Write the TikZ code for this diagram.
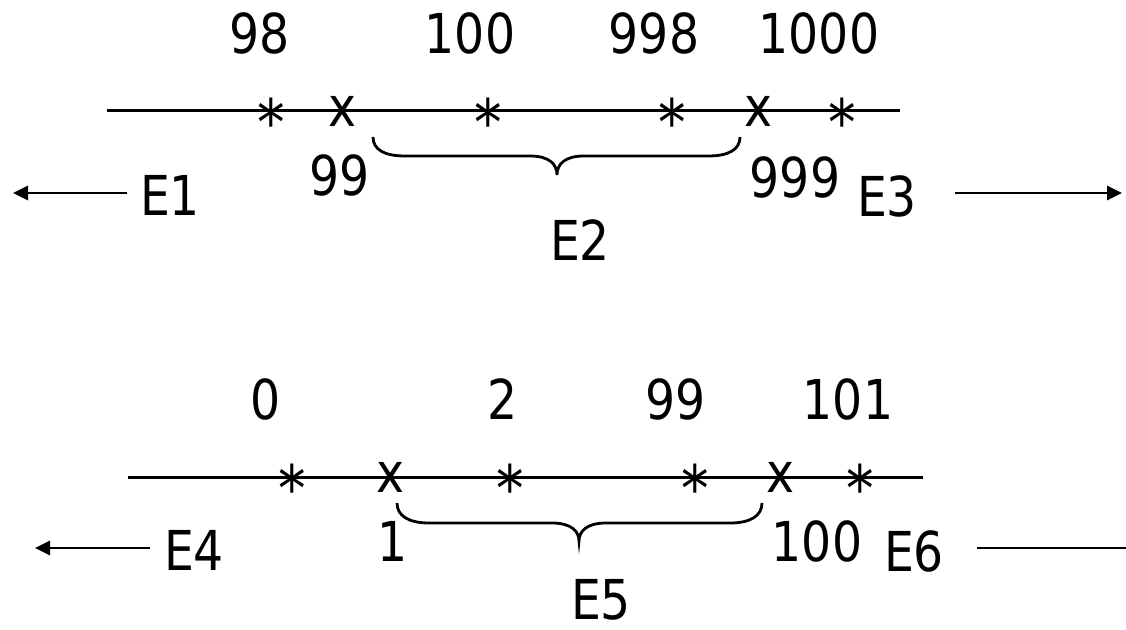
\documentclass[tikz,border=0pt]{standalone}
\usepackage{fontspec}
\setmainfont[FakeStretch=0.86]{DejaVu Sans}
\usetikzlibrary{arrows.meta}
\begin{document}
\begin{tikzpicture}[x=1pt,y=-1pt,
  lbl/.style={inner sep=0pt, font=\fontsize{55}{66}\selectfont},
  star/.style={inner sep=0pt, anchor=north, font=\fontsize{64}{70}\selectfont},
  cross/.style={lbl},
  axis/.style={line width=3pt},
  bracepath/.style={line width=2.8pt},
  pointer/.style={line width=2.8pt, -{Triangle[length=15pt,width=14pt]}},
  plainline/.style={line width=2.8pt}]
\useasboundingbox (0,0) rectangle (1126,629);

% ---------- upper number line ----------
\coordinate (ua) at (107,110);
\coordinate (ub) at (900,110);
\draw[axis] (ua) -- (ub);

\node[star] (us1) at (271,98) {*};
\node[star] (us2) at (488,98) {*};
\node[star] (us3) at (672,98) {*};
\node[star] (us4) at (842,98) {*};
\node[cross] (ux1) at (342,111) {x};
\node[cross] (ux2) at (758,111) {x};

\node[lbl] (u98)   at (260,33) {98};
\node[lbl] (u100)  at (470,33) {100};
\node[lbl] (u998)  at (654,33) {998};
\node[lbl] (u1000) at (819,33) {1000};
\node[lbl] (u99)   at (340,175) {99};
\node[lbl] (u999)  at (795,177) {999};

\node[lbl] (e1) at (170,195) {E1};
\node[lbl] (e2) at (580,240) {E2};
\node[lbl] (e3) at (887,196) {E3};

\coordinate (e1tail) at (127,193);
\coordinate (e1head) at (13,193);
\draw[pointer] (e1tail) -- (e1head);
\coordinate (e3tail) at (955,193);
\coordinate (e3head) at (1122,193);
\draw[pointer] (e3tail) -- (e3head);

\draw[bracepath] (373,137) .. controls (373,150) and (385,156) .. (405,156)
  -- (530,156) .. controls (549,156) and (557,164) .. (557,175)
  .. controls (557,164) and (565,156) .. (584,156)
  -- (708,156) .. controls (728,156) and (740,150) .. (740,137);

% ---------- lower number line ----------
\coordinate (la) at (128,477);
\coordinate (lb) at (923,477);
\draw[axis] (la) -- (lb);

\node[star] (ls1) at (292,464) {*};
\node[star] (ls2) at (510,464) {*};
\node[star] (ls3) at (695,464) {*};
\node[star] (ls4) at (860,464) {*};
\node[cross] (lx1) at (390,477) {x};
\node[cross] (lx2) at (780,477) {x};

\node[lbl] (l0)   at (266,399) {0};
\node[lbl] (l2)   at (503,399) {2};
\node[lbl] (l99)  at (676,399) {99};
\node[lbl] (l101) at (848,399) {101};
\node[lbl] (l1)   at (393,541) {1};
\node[lbl] (l100) at (817,541) {100};

\node[lbl] (e4) at (194,550) {E4};
\node[lbl] (e5) at (601,600) {E5};
\node[lbl] (e6) at (914,551) {E6};

\coordinate (e4tail) at (150,548);
\coordinate (e4head) at (35,548);
\draw[pointer] (e4tail) -- (e4head);
\coordinate (e6tail) at (977,548);
\coordinate (e6end) at (1126,548);
\draw[plainline] (e6tail) -- (e6end);

\draw[bracepath] (397,503) .. controls (397,516) and (409,523) .. (429,523)
  -- (552,523) .. controls (571,523) and (579,531) .. (579,541)
  .. controls (579,531) and (587,523) .. (606,523)
  -- (730,523) .. controls (750,523) and (762,516) .. (762,503);
\end{tikzpicture}
\end{document}
